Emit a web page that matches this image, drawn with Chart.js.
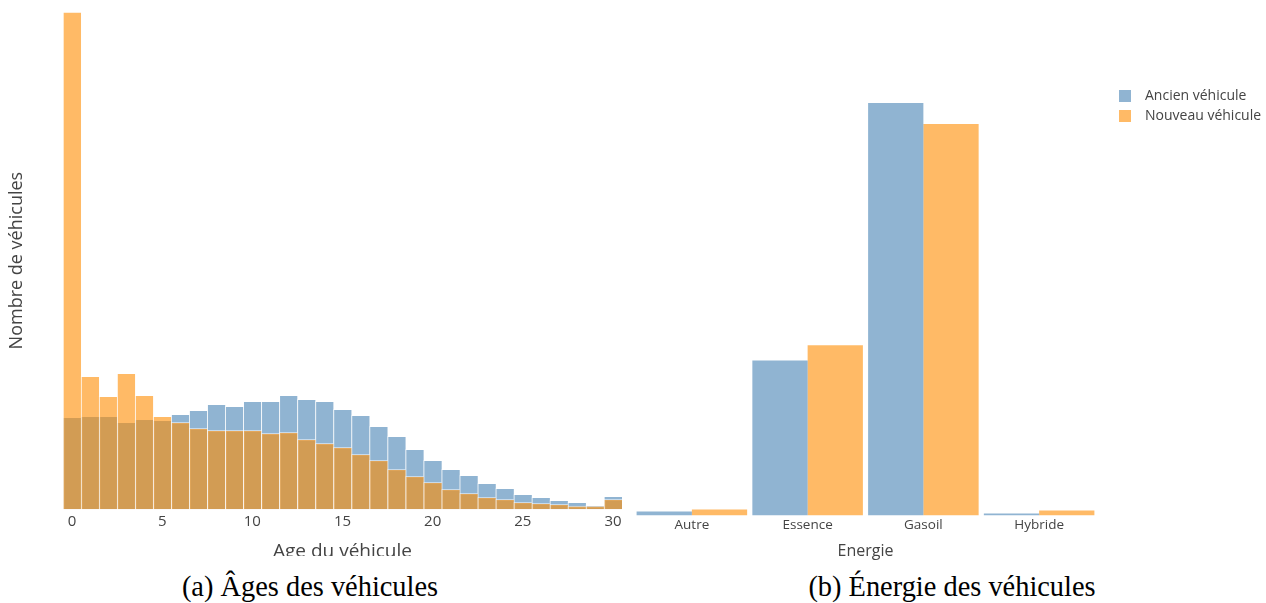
<!DOCTYPE html>
<html>
<head>
<meta charset="utf-8">
<script src="https://cdn.jsdelivr.net/npm/chart.js@4"></script>
<style>
  body { margin: 0; width: 1266px; height: 603px; background: #fff; position: relative; overflow: hidden; }
  #leftBox { position: absolute; left: 0; top: 0; width: 630px; height: 556px; overflow: hidden; }
  #rightBox { position: absolute; left: 630px; top: 0; width: 636px; height: 565px; }
  .caption { position: absolute; top: 571px; line-height: 31px; font-family: "Liberation Serif", serif; font-size: 28.4px; color: #000; white-space: nowrap; transform: translateX(-50%); }
</style>
</head>
<body>
<div id="leftBox"><canvas id="ageChart" width="630" height="567"></canvas></div>
<div id="rightBox"><canvas id="energyChart" width="636" height="565"></canvas></div>
<div class="caption" style="left:310px">(a) Âges des véhicules</div>
<div class="caption" style="left:952px">(b) Énergie des véhicules</div>
<script>
// Age histogram (counts, arbitrary units)
const ages = ['0', '1', '2', '3', '4', '5', '6', '7', '8', '9', '10', '11', '12', '13', '14', '15',
  '16', '17', '18', '19', '20', '21', '22', '23', '24', '25', '26', '27', '28', '29', '30'];
const ancienAge = [92, 93, 93, 87, 90, 89, 95, 99, 105, 103, 108, 108, 114, 110, 108, 100,
  94, 83, 73, 60, 49, 40, 34, 26, 21, 15, 12, 9, 7, 4, 13];
const nouveauAge = [498, 133, 113, 136, 114, 93, 87, 81, 79, 79, 79, 76, 77, 70, 66, 62,
  55, 49, 40, 33, 27, 20, 16, 12, 10, 7, 6, 5, 3, 3, 10];

// Energy counts
const energies = ['Autre', 'Essence', 'Gasoil', 'Hybride'];
const ancienEnergy = [4, 155, 412, 2];
const nouveauEnergy = [6, 170, 391, 5];

const blue = 'rgba(70,130,180,0.6)';
const orange = 'rgba(255,140,0,0.6)';
const textGrey = '#444';
const sans = '"Open Sans", sans-serif';

// legend marker: square with some room on the left and right of it
function legendSquare(color) {
  const c = document.createElement('canvas');
  c.width = 35;
  c.height = 12;
  const g = c.getContext('2d');
  g.fillStyle = color;
  g.fillRect(16, 0, 12, 12);
  return c;
}

// Ages des vehicules
new Chart(document.getElementById('ageChart'), {
  type: 'bar',
  data: {
    labels: ages,
    datasets: [{
        label: 'Ancien véhicule',
        data: ancienAge,
        backgroundColor: blue,
        borderColor: 'rgba(255,255,255,0.5)',
        borderWidth: {left: 1, top: 1, right: 0, bottom: 0},
        grouped: false,
        order: 1
      },
      {
        label: 'Nouveau véhicule',
        data: nouveauAge,
        backgroundColor: orange,
        borderColor: 'rgba(255,255,255,0.5)',
        borderWidth: {left: 1, top: 1, right: 0, bottom: 0},
        grouped: false,
        order: 0
      }
    ]
  },
  options: {
    responsive: false,
    animation: false,
    barPercentage: 1,
    categoryPercentage: 1,
    layout: {padding: {top: 12, right: 8, left: 0, bottom: 0}},
    plugins: {legend: {display: false}, tooltip: {enabled: false}},
    scales: {
      x: {
        grid: {display: false, drawTicks: false},
        border: {display: false},
        ticks: {
          autoSkip: false,
          maxRotation: 0,
          padding: 4,
          color: textGrey,
          font: {family: sans, size: 15},
          callback: function(val, i) {
            return i % 5 === 0 ? this.getLabelForValue(val) : '';
          }
        },
        title: {
          display: true,
          text: 'Age du véhicule',
          color: textGrey,
          font: {family: sans, size: 19},
          padding: {top: 5, bottom: 4}
        }
      },
      y: {
        min: 0,
        max: 498,
        grid: {display: false, drawTicks: false},
        border: {display: false},
        ticks: {display: false},
        title: {
          display: true,
          text: 'Nombre de véhicules',
          color: textGrey,
          font: {family: sans, size: 18},
          padding: {top: 6, bottom: 0}
        },
        afterFit: function(axis) {
          axis.width = 63;
        }
      }
    }
  }
});

// Energie des vehicules
new Chart(document.getElementById('energyChart'), {
  type: 'bar',
  data: {
    labels: energies,
    datasets: [{
        label: 'Ancien véhicule',
        data: ancienEnergy,
        backgroundColor: blue,
        pointStyle: legendSquare(blue)
      },
      {
        label: 'Nouveau véhicule',
        data: nouveauEnergy,
        backgroundColor: orange,
        pointStyle: legendSquare(orange)
      }
    ]
  },
  options: {
    responsive: false,
    animation: false,
    barPercentage: 1,
    categoryPercentage: 0.955,
    layout: {padding: {top: 83, right: 0, left: 4, bottom: 0}},
    plugins: {
      tooltip: {enabled: false},
      legend: {
        position: 'right',
        align: 'start',
        maxWidth: 169,
        labels: {
          usePointStyle: true,
          pointStyleWidth: 35,
          boxHeight: 12,
          padding: 6,
          color: textGrey,
          font: {family: sans, size: 14}
        }
      }
    },
    scales: {
      x: {
        grid: {display: false, drawTicks: false},
        border: {display: false},
        ticks: {padding: 1, color: textGrey, font: {family: sans, size: 13.5}},
        title: {
          display: true,
          text: 'Energie',
          color: textGrey,
          font: {family: sans, size: 16},
          padding: {top: 8, bottom: 4}
        }
      },
      y: {
        display: false,
        min: 0,
        max: 432
      }
    }
  }
});
</script>
</body>
</html>
